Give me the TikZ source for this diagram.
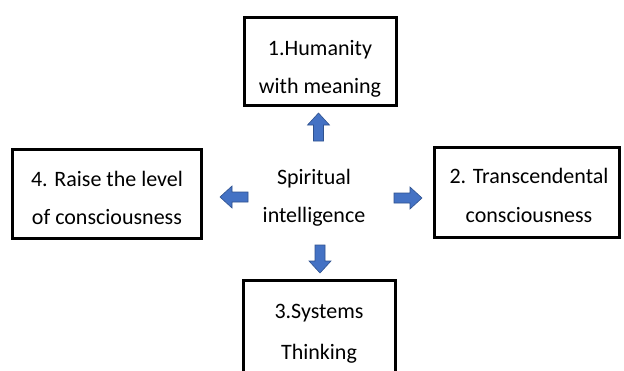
\documentclass[tikz,border=0pt]{standalone}
\usepackage{fontspec}
\setmainfont{Carlito}
\definecolor{arrowfill}{HTML}{4472C4}
\definecolor{arrowline}{HTML}{2F528F}
\tikzset{
  boxnode/.style={draw=black, line width=3pt, fill=white, inner sep=0pt},
  linetext/.style={anchor=base, inner sep=0pt, font=\fontsize{22}{26}\selectfont},
  arrowstyle/.style={fill=arrowfill, draw=arrowline, line width=0.6pt, line join=miter},
  blockarrow/.pic={\draw[arrowstyle] (-14,-5) -- (2,-5) -- (2,-11) -- (14,0) -- (2,11) -- (2,5) -- (-14,5) -- cycle;}
}
\begin{document}
\begin{tikzpicture}[x=1pt,y=-1pt]
\useasboundingbox (0,0) rectangle (624,370);
\clip (0,0) rectangle (624,370);
\fill[white] (0,0) rectangle (624,370);

% boxes
\node[boxnode, minimum width=152pt, minimum height=88pt] (b1) at (320,61.5) {};
\node[boxnode, minimum width=185pt, minimum height=90pt] (b2) at (527,192.5) {};
\node[boxnode, minimum width=152pt, minimum height=120pt] (b3) at (319.5,340.5) {};
\node[boxnode, minimum width=189pt, minimum height=89pt] (b4) at (107,194) {};

% texts
\node[linetext] (t1a) at (320,55) {1.Humanity};
\node[linetext] (t1b) at (320,93) {with meaning};
\node[linetext] (t2a) at (529,183) {2. Transcendental};
\node[linetext] (t2b) at (529,222) {consciousness};
\node[linetext] (t3a) at (319,318) {3.Systems};
\node[linetext] (t3b) at (319,359) {Thinking};
\node[linetext] (t4a) at (107,186) {4. Raise the level};
\node[linetext] (t4b) at (107,224) {of consciousness};
\node[linetext] (c1) at (314,184) {Spiritual};
\node[linetext] (c2) at (314,222) {intelligence};

% block arrows
\pic[rotate=90] at (318.5,127) {blockarrow};
\pic[rotate=-90] at (320,259) {blockarrow};
\pic[rotate=180] at (234,197) {blockarrow};
\pic at (408,198) {blockarrow};
\end{tikzpicture}
\end{document}
